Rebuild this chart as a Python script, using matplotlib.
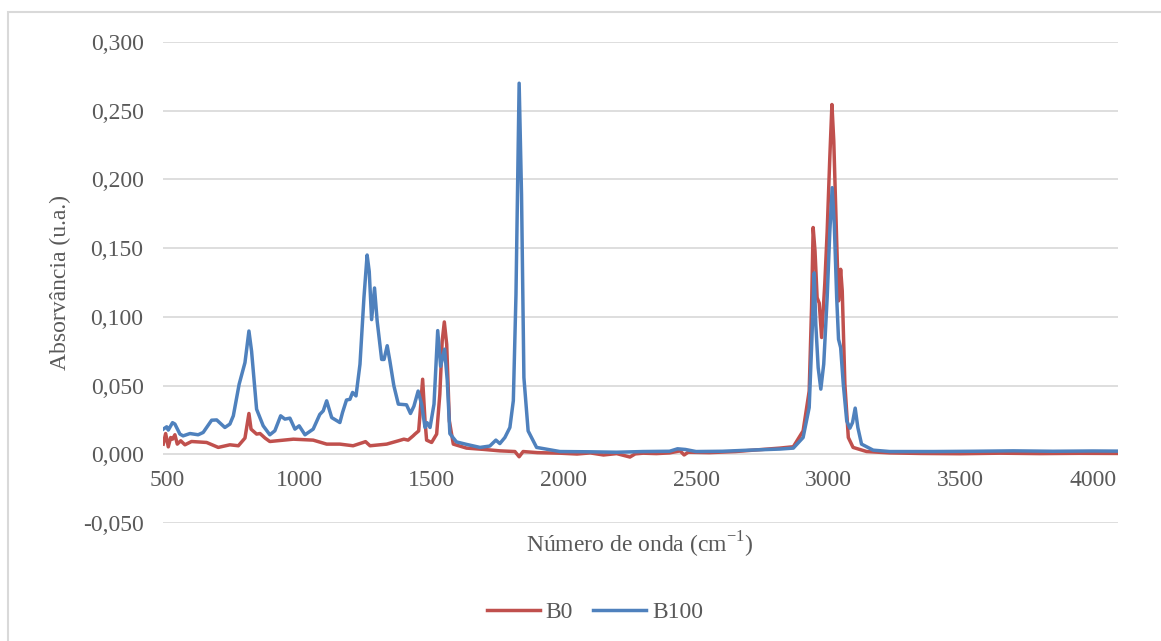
import matplotlib
matplotlib.use("Agg")
import matplotlib.pyplot as plt
from matplotlib.patches import Rectangle

# FTIR spectra, wavenumber (cm-1) vs absorbance
b0_x = [485, 494, 504, 513, 520, 529, 538, 551, 567, 592, 649, 693, 737, 769, 794,
        809, 817, 838, 851, 870, 888, 977, 1052, 1103, 1153, 1203, 1241, 1250, 1267,
        1330, 1374, 1395, 1411, 1430, 1437, 1451, 1456, 1466, 1475, 1481, 1500,
        1519, 1531, 1540, 1548, 1557, 1567, 1582, 1632, 1700, 1758, 1815, 1831,
        1846, 1900, 1985, 2050, 2100, 2150, 2200, 2250, 2270, 2300, 2350, 2400,
        2440, 2455, 2470, 2550, 2650, 2750, 2817, 2868, 2905, 2928, 2937, 2943,
        2950, 2958, 2966, 2975, 2987, 2996, 3006, 3014, 3021, 3032, 3039, 3047,
        3053, 3063, 3076, 3094, 3145, 3233, 3350, 3500, 3650, 3800, 3950, 4096]
b0_y = [0.0074, 0.0151, 0.0054, 0.0122, 0.0110, 0.0142, 0.0074, 0.0098, 0.0069,
        0.0093, 0.0086, 0.0050, 0.0069, 0.0062, 0.0118, 0.0297, 0.0183, 0.0147,
        0.0151, 0.0118, 0.0093, 0.0110, 0.0103, 0.0074, 0.0074, 0.0062, 0.0086,
        0.0092, 0.0062, 0.0074, 0.0098, 0.0110, 0.0103, 0.0134, 0.0147, 0.0170,
        0.0290, 0.0546, 0.0243, 0.0103, 0.0086, 0.0147, 0.0437, 0.0825, 0.0963,
        0.0800, 0.0243, 0.0074, 0.0045, 0.0035, 0.0025, 0.0020, -0.0018, 0.0020,
        0.0012, 0.0008, 0.0002, 0.0010, -0.0005, 0.0005, -0.0020, 0.0003, 0.0008,
        0.0005, 0.0010, 0.0025, -0.0005, 0.0015, 0.0012, 0.0020, 0.0035, 0.0045,
        0.0055, 0.0170, 0.0460, 0.1070, 0.1650, 0.1480, 0.1140, 0.1100, 0.0850,
        0.1240, 0.1620, 0.2160, 0.2545, 0.2280, 0.1550, 0.1116, 0.1346, 0.1190,
        0.0510, 0.0122, 0.0050, 0.0020, 0.0010, 0.0006, 0.0004, 0.0008, 0.0005,
        0.0007, 0.0006]

b100_x = [485, 498, 504, 520, 529, 548, 560, 586, 617, 636, 668, 687, 718, 737, 750,
          772, 794, 809, 819, 838, 863, 888, 907, 929, 945, 964, 983, 999, 1021,
          1052, 1077, 1090, 1103, 1122, 1153, 1163, 1178, 1191, 1201, 1214, 1229,
          1244, 1256, 1264, 1273, 1284, 1294, 1311, 1320, 1332, 1342, 1357, 1374,
          1405, 1420, 1433, 1449, 1462, 1475, 1483, 1494, 1509, 1523, 1534, 1549,
          1559, 1569, 1594, 1632, 1683, 1720, 1743, 1758, 1777, 1796, 1809, 1819,
          1831, 1840, 1849, 1865, 1897, 1985, 2100, 2200, 2300, 2400, 2430, 2460,
          2500, 2600, 2700, 2817, 2868, 2905, 2928, 2938, 2947, 2953, 2962, 2972,
          2983, 2996, 3006, 3015, 3023, 3032, 3039, 3047, 3057, 3070, 3082, 3092,
          3102, 3112, 3126, 3170, 3233, 3400, 3550, 3700, 3850, 4000, 4096]
b100_y = [0.0183, 0.0200, 0.0176, 0.0230, 0.0220, 0.0147, 0.0134, 0.0151, 0.0142,
          0.0159, 0.0248, 0.0250, 0.0195, 0.0220, 0.0280, 0.0510, 0.0667, 0.0897,
          0.0750, 0.0328, 0.0207, 0.0142, 0.0171, 0.0280, 0.0256, 0.0263, 0.0183,
          0.0207, 0.0142, 0.0183, 0.0290, 0.0316, 0.0389, 0.0267, 0.0231, 0.0304,
          0.0395, 0.0400, 0.0450, 0.0425, 0.0655, 0.1140, 0.1450, 0.1330, 0.0980,
          0.1210, 0.0970, 0.0690, 0.0690, 0.0790, 0.0680, 0.0500, 0.0365, 0.0360,
          0.0297, 0.0350, 0.0460, 0.0365, 0.0195, 0.0230, 0.0195, 0.0365, 0.0900,
          0.0640, 0.0765, 0.0540, 0.0150, 0.0090, 0.0072, 0.0050, 0.0060, 0.0103,
          0.0078, 0.0122, 0.0195, 0.0390, 0.1160, 0.2700, 0.1890, 0.0558, 0.0170,
          0.0050, 0.0020, 0.0018, 0.0015, 0.0020, 0.0022, 0.0040, 0.0035, 0.0020,
          0.0022, 0.0030, 0.0038, 0.0045, 0.0122, 0.0340, 0.0825, 0.1320, 0.0946,
          0.0630, 0.0474, 0.0656, 0.1140, 0.1620, 0.1940, 0.1670, 0.1140, 0.0837,
          0.0776, 0.0510, 0.0243, 0.0190, 0.0231, 0.0336, 0.0195, 0.0074, 0.0030,
          0.0020, 0.0020, 0.0022, 0.0025, 0.0022, 0.0024, 0.0023]

y_ticks = [-0.05, 0.0, 0.05, 0.10, 0.15, 0.20, 0.25, 0.30]
x_ticks = [500, 1000, 1500, 2000, 2500, 3000, 3500, 4000]

plt.rcParams["font.family"] = ["Liberation Serif", "DejaVu Serif"]
plt.rcParams["mathtext.fontset"] = "custom"
plt.rcParams["mathtext.rm"] = "Liberation Serif"
txt = "#595959"

fig = plt.figure(figsize=(11.61, 6.41), dpi=100)
fig.patches.append(Rectangle((8 / 1161, -0.2), 2, 1.2 - 12 / 641, transform=fig.transFigure,
                             fill=False, edgecolor="#d9d9d9", lw=1.5))
ax = fig.add_axes([163 / 1161, 118 / 641, 955 / 1161, 481 / 641])

ax.plot(b0_x, b0_y, color="#c0504d", lw=2.5, label="B0")
ax.plot(b100_x, b100_y, color="#4f81bd", lw=2.5, label="B100")

ax.set_xlim(484, 4096)
ax.set_ylim(-0.05, 0.30)
ax.set_yticks(y_ticks)
ax.set_yticklabels([f"{v:.3f}".replace(".", ",") for v in y_ticks])
ax.set_xticks(x_ticks)
ax.grid(axis="y", color="#d9d9d9", lw=1.25)
ax.set_axisbelow(True)
for s in ax.spines.values():
    s.set_visible(False)
ax.spines["bottom"].set_position(("data", 0))
ax.tick_params(axis="y", length=0, pad=14, labelsize=17, labelcolor=txt)
ax.tick_params(axis="x", length=0, pad=11, labelsize=17, labelcolor=txt)

fig.text(640 / 1161, 1 - 545 / 641, r"Número de onda (cm$^{\mathrm{-1}}$)", ha="center",
         va="center", fontsize=17, color=txt)
fig.text(60 / 1161, 1 - 282 / 641, "Absorvância (u.a.)", ha="center", va="center",
         rotation=90, fontsize=17, color=txt)
fig.legend(loc="center", bbox_to_anchor=(595 / 1161, 1 - 612 / 641), ncol=2, frameon=False,
           fontsize=17, labelcolor=txt, handlelength=2.25, handletextpad=0.25,
           columnspacing=0.85)

fig.savefig("out.png", dpi=100)
